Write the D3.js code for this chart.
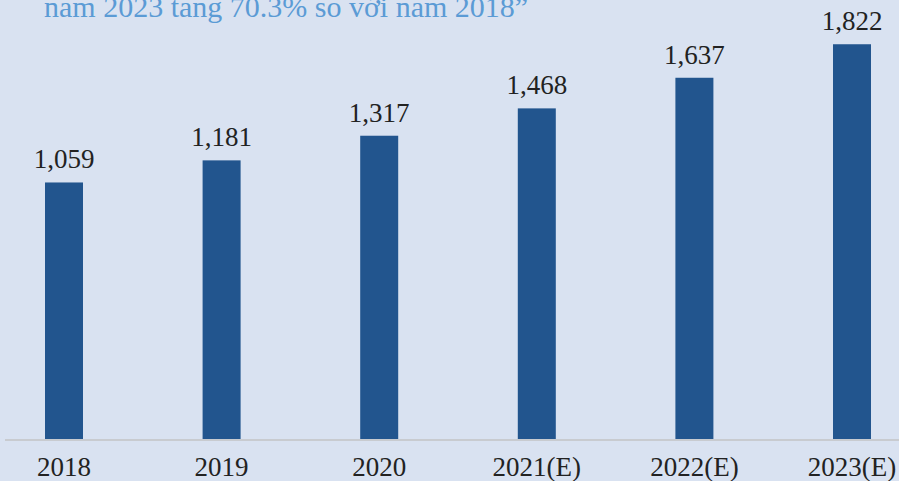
<!DOCTYPE html>
<html>
<head>
  <meta charset="utf-8">
  <script src="https://d3js.org/d3.v7.min.js"></script>
  <style>
    html, body { margin: 0; padding: 0; background: #d9e2f1; }
    svg { display: block; }
  </style>
</head>
<body>
  <div id="chart"></div>
  <script>
    // data
    var years = ["2018", "2019", "2020", "2021(E)", "2022(E)", "2023(E)"];
    var values = [1059, 1181, 1317, 1468, 1637, 1822];
    var valueLabels = ["1,059", "1,181", "1,317", "1,468", "1,637", "1,822"];
    var subtitle = "năm 2023 tăng 70.3% so với năm 2018”";

    var width = 899, height = 481;

    var svg = d3.select("#chart")
      .append("svg")
      .attr("width", width)
      .attr("height", height);

    svg.append("rect")
      .attr("width", width)
      .attr("height", height)
      .attr("fill", "#d9e2f1");

    // x positions (bar centres)
    var x = d3.scalePoint()
      .domain(years)
      .range([64, 852]);

    // y scale - axis does not start at zero in the original
    var y = d3.scaleLinear()
      .domain([-357, 2000])
      .range([439, 12]);

    var barW = 38;

    // title text cut off at the top
    svg.append("text")
      .attr("x", 44)
      .attr("y", 17)
      .attr("fill", "#5b9bd5")
      .style("font-family", "'Liberation Serif', 'Times New Roman', serif")
      .style("font-size", "30px")
      .text(subtitle);

    svg.append("text")
      .attr("x", 758)
      .attr("y", -8)
      .attr("fill", "#e8211f")
      .style("font-family", "'Liberation Serif', 'Times New Roman', serif")
      .style("font-size", "28px")
      .text("g");

    // bars
    svg.selectAll(".bar")
      .data(values)
      .enter()
      .append("rect")
      .attr("class", "bar")
      .attr("x", function (d, i) { return x(years[i]) - barW / 2 })
      .attr("y", function (d) { return y(d) })
      .attr("width", barW)
      .attr("height", function (d) { return y(-357) - y(d) })
      .attr("fill", "#22558e");

    // baseline
    svg.append("line")
      .attr("x1", 5)
      .attr("x2", width)
      .attr("y1", 440)
      .attr("y2", 440)
      .attr("stroke", "#c8cbd0")
      .attr("stroke-width", 2);

    // value labels
    svg.selectAll(".val")
      .data(values)
      .enter()
      .append("text")
      .attr("class", "val")
      .attr("x", function (d, i) { return x(years[i]) })
      .attr("y", function (d) { return y(d) - 14 })
      .attr("text-anchor", "middle")
      .attr("fill", "#222")
      .style("font-family", "'Liberation Serif', 'Times New Roman', serif")
      .style("font-size", "27px")
      .text(function (d, i) { return valueLabels[i] });

    // category labels
    svg.selectAll(".cat")
      .data(years)
      .enter()
      .append("text")
      .attr("class", "cat")
      .attr("x", function (d) { return x(d) })
      .attr("y", 476)
      .attr("text-anchor", "middle")
      .attr("fill", "#222")
      .style("font-family", "'Liberation Serif', 'Times New Roman', serif")
      .style("font-size", "27px")
      .text(function (d) { return d });
  </script>
</body>
</html>
